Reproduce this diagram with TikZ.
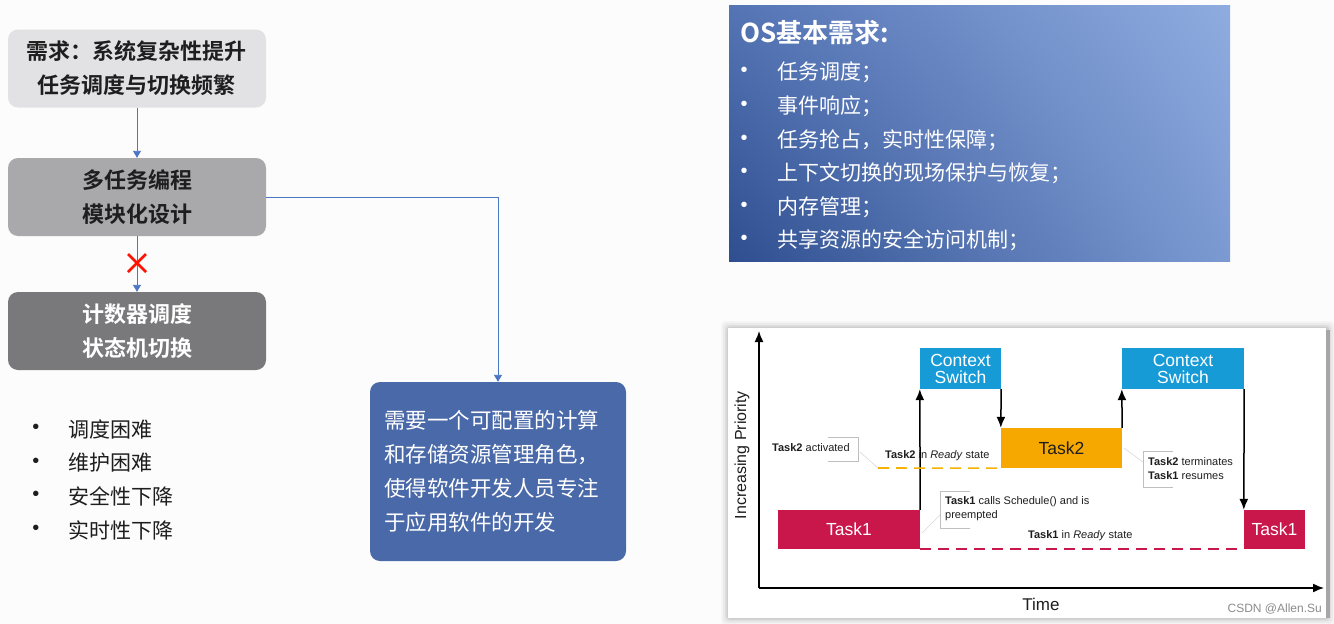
\documentclass[tikz,border=0pt]{standalone}
\usepackage{fontspec}
\setmainfont{Liberation Sans}
\newfontfamily\cjk[BoldFont={Noto Sans CJK SC Bold}]{Noto Sans CJK SC}
\usetikzlibrary{arrows.meta,positioning,shadings}
\definecolor{bg}{HTML}{FCFCFC}
\definecolor{gA}{HTML}{E2E1E4}
\definecolor{gB}{HTML}{A9A8AB}
\definecolor{gC}{HTML}{79787B}
\definecolor{bluebox}{HTML}{4A69A9}
\definecolor{arrblue}{HTML}{4A76C4}
\definecolor{csblue}{HTML}{179BD7}
\definecolor{torange}{HTML}{F6A800}
\definecolor{tred}{HTML}{C9174B}
\definecolor{txt}{HTML}{1E1E1E}
\definecolor{osA}{HTML}{2E4E90}
\definecolor{osB}{HTML}{5574B4}
\definecolor{osC}{HTML}{8FACE0}
\definecolor{osD}{HTML}{7C9AD2}
\tikzset{
  flowbox/.style={rectangle, rounded corners=10pt, minimum width=258pt, minimum height=78pt,
    align=center, font=\cjk\bfseries\fontsize{22}{34}\selectfont, inner sep=0pt},
  flowarrow/.style={draw=arrblue, line width=0.9pt, -{Triangle[width=8pt,length=7pt]}},
  bultext/.style={anchor=west, inner sep=0pt, font=\cjk\fontsize{21}{26}\selectfont},
  bulletdot/.style={anchor=center, inner sep=0pt, font=\fontsize{20}{24}\selectfont},
  taskbox/.style={rectangle, inner sep=0pt, text=white, font=\fontsize{17.5}{18}\selectfont, align=center},
  chartarrow/.style={line width=1.5pt, -{Latex[length=11pt,width=9pt]}},
  smalllabel/.style={anchor=west, inner sep=0pt, align=left, font=\fontsize{11}{14}\selectfont, text=txt},
  bracketline/.style={draw=black!25, line width=0.9pt},
  leader/.style={draw=black!15, line width=0.6pt},
}
\begin{document}
\begin{tikzpicture}[x=1pt,y=-1pt]
\useasboundingbox (0,0) rectangle (1334,624);
\fill[bg] (0,0) rectangle (1334,624);

% ---------------- left flow ----------------
\node[flowbox, fill=gA, text=txt] (b1) at (137,68.5) {需求：系统复杂性提升\\任务调度与切换频繁};
\node[flowbox, fill=gB, text=txt] (b2) at (137,197) {多任务编程\\模块化设计};
\node[flowbox, fill=gC, text=white] (b3) at (137,331) {计数器调度\\状态机切换};
\node[rectangle, rounded corners=10pt, fill=bluebox, minimum width=256pt, minimum height=179pt,
      text width=228pt, inner xsep=14pt, inner ysep=0pt, align=left, text=white,
      font=\cjk\fontsize{21.5}{34}\selectfont] (b4) at (498,471.5)
      {需要一个可配置的计算\\和存储资源管理角色，\\使得软件开发人员专注\\于应用软件的开发};

\draw[flowarrow] (b1.south) -- (b2.north);
\draw[flowarrow] (b2.south) -- (b3.north);
\draw[flowarrow] (b2.east) -| (b4.north);
\coordinate (xmark) at (137,263);
\draw[red!85!orange, line width=2.6pt] ([shift={(-9,-9)}]xmark) -- ([shift={(9,9)}]xmark)
      ([shift={(-9,9)}]xmark) -- ([shift={(9,-9)}]xmark);

% bullets bottom-left
\foreach \t/\y [count=\i] in {调度困难/429, 维护困难/463, 安全性下降/496, 实时性下降/530}{
  \node[bulletdot, text=txt] (lb\i) at (36,\y) {•};
  \node[bultext, text=txt] (lt\i) at (68,\y) {\t};
}

% ---------------- OS box ----------------
\shade[lower left=osA, upper left=osB, upper right=osC, lower right=osD] (729,5) rectangle (1230,261);
\node[anchor=west, inner sep=0pt, text=white, font=\cjk\bfseries\fontsize{26}{30}\selectfont] (ostitle) at (740,33) {OS基本需求:};
\foreach \t/\y [count=\i] in {任务调度；/72, 事件响应；/106, 任务抢占，实时性保障；/140, 上下文切换的现场保护与恢复；/173, 内存管理；/207, 共享资源的安全访问机制；/240}{
  \node[bulletdot, text=white] (ob\i) at (744,\y) {•};
  \node[bultext, text=white] (ot\i) at (777,\y) {\t};
}

% ---------------- chart ----------------
\foreach \k/\o in {7/0.03,5/0.04,3/0.05,1.5/0.07}{
  \fill[black, opacity=\o, rounded corners=4pt] (728-\k,328-\k) rectangle (1326+\k+2,618+\k);
}
\fill[black!35] (1326,330) rectangle (1330,618);
\fill[white] (728,328) rectangle (1326,618);

\coordinate (origin) at (759,588);
\coordinate (ytop) at (759,331);
\coordinate (xend) at (1324,588);
\draw[chartarrow] (origin) -- (ytop);
\draw[chartarrow] (origin) -- (xend);

\node[taskbox, fill=tred, minimum width=142pt, minimum height=39pt] (t1a) at (849,529.5) {Task1};
\node[taskbox, fill=csblue, minimum width=81pt, minimum height=41pt] (cs1) at (960.5,368.5) {Context\\[-1pt]Switch};
\node[taskbox, fill=torange, minimum width=121pt, minimum height=40pt, text=txt] (t2) at (1061.5,448) {Task2};
\node[taskbox, fill=csblue, minimum width=122pt, minimum height=41pt] (cs2) at (1183,368.5) {Context\\[-1pt]Switch};
\node[taskbox, fill=tred, minimum width=61pt, minimum height=39pt] (t1b) at (1274.5,529.5) {Task1};

\draw[chartarrow] (t1a.north east) -- (cs1.south west);
\draw[chartarrow] (cs1.south east) -- (t2.north west);
\draw[chartarrow] (t2.north east) -- (cs2.south west);
\draw[chartarrow] (cs2.south east) -- (t1b.north west);

\coordinate (yd) at (878,468);
\draw[torange!90!yellow, line width=1.6pt, dash pattern=on 11pt off 7pt] (yd) -- (t2.south west);
\draw[tred, line width=1.6pt, dash pattern=on 11pt off 7pt] (t1a.south east) -- (t1b.south west);

% labels
\node[smalllabel] (l1) at (772,448) {\textbf{Task2} activated};
\draw[bracketline] (828,437) -- (858,437) -- (858,461) -- (828,461);
\draw[leader] (860,452) -- (yd);
\node[smalllabel] (l2) at (885,456) {\textbf{Task2} in \textit{Ready} state};
\node[smalllabel] (l3) at (945,509) {\textbf{Task1} calls Schedule() and is\\preempted};
\draw[bracketline] (970,491) -- (940,491) -- (940,528) -- (970,528);
\draw[leader] (940,515) -- (922,533);
\node[smalllabel] (l4) at (1028,536) {\textbf{Task1} in \textit{Ready} state};
\node[smalllabel] (l5) at (1148,468.5) {\textbf{Task2} terminates\\\textbf{Task1} resumes};
\draw[bracketline] (1173,451) -- (1143,451) -- (1143,487) -- (1173,487);
\draw[leader] (1143,462) -- (1124,448);

\node[rotate=90, inner sep=0pt, font=\fontsize{16}{18}\selectfont, text=txt] (ylab) at (742,455) {Increasing Priority};
\node[inner sep=0pt, font=\fontsize{17}{20}\selectfont, text=txt] (xlab) at (1041,604) {Time};
\node[anchor=east, inner sep=0pt, font=\fontsize{12}{14}\selectfont, text=black!45] (wm) at (1322,609) {CSDN @Allen.Su};
\end{tikzpicture}
\end{document}
